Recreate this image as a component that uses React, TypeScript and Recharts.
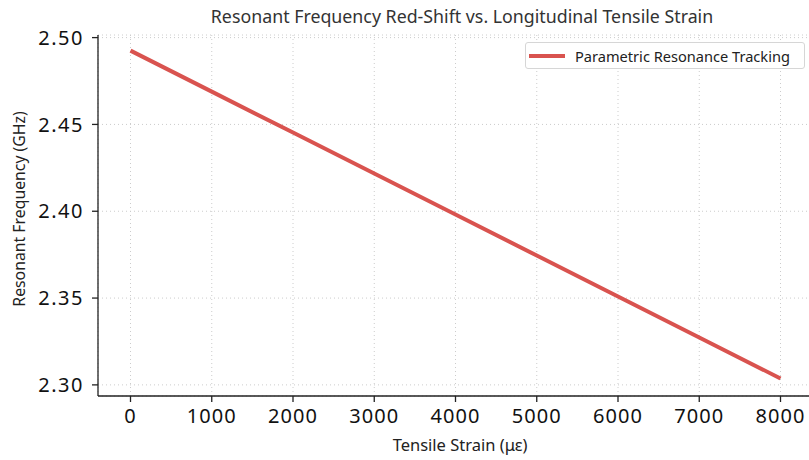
import {
  LineChart,
  Line,
  XAxis,
  YAxis,
  CartesianGrid,
} from "recharts";

const strain = [0, 1000, 2000, 3000, 4000, 5000, 6000, 7000, 8000];
const frequency = [2.4925, 2.4689, 2.4453, 2.4217, 2.3981, 2.3745, 2.3509, 2.3273, 2.3037];
const xTicks = [0, 1000, 2000, 3000, 4000, 5000, 6000, 7000, 8000];
const yTicks = [2.3, 2.35, 2.4, 2.45, 2.5];
const seriesName = "Parametric Resonance Tracking";

const data = strain.map((s, i) => ({ strain: s, freq: frequency[i] }));

const FONT = "'Noto Sans', sans-serif";
const RED = "#d9534f";

const LegendBox = () => (
  <div
    style={{
      position: "absolute",
      left: 525,
      top: 42,
      width: 280,
      height: 27,
      border: "1px solid #d6d6d6",
      borderRadius: 3,
      background: "#fff",
      display: "flex",
      alignItems: "center",
      boxSizing: "border-box",
      fontFamily: FONT,
      fontSize: 14.6,
      color: "#222",
      whiteSpace: "nowrap",
    }}
  >
    <span
      style={{
        display: "inline-block",
        width: 36,
        height: 4,
        background: RED,
        marginLeft: 3,
        marginRight: 10,
      }}
    />
    {seriesName}
  </div>
);

const YLabel = () => (
  <text
    x={19}
    y={209}
    transform="rotate(-90 19 209)"
    textAnchor="middle"
    dominantBaseline="central"
    fill="#222"
    fontSize={15.8}
    fontFamily={FONT}
  >
    Resonant Frequency (GHz)
  </text>
);

const XLabel = () => (
  <text
    x={460}
    y={444}
    textAnchor="middle"
    dominantBaseline="central"
    fill="#222"
    fontSize={16.5}
    fontFamily={FONT}
  >
    Tensile Strain (με)
  </text>
);

export default function App() {
  return (
    <div
      style={{
        position: "absolute",
        left: 0,
        top: 0,
        width: 809,
        height: 460,
        overflow: "hidden",
        background: "#fff",
      }}
    >
      <div
        style={{
          position: "absolute",
          left: 62,
          width: 800,
          top: 4,
          textAlign: "center",
          fontFamily: FONT,
          fontSize: 17.8,
          color: "#333",
          whiteSpace: "nowrap",
        }}
      >
        Resonant Frequency Red-Shift vs. Longitudinal Tensile Strain
      </div>
      <LineChart
        width={815}
        height={460}
        data={data}
        margin={{ top: 35, right: 2, bottom: 0, left: 0 }}
        style={{ fontFamily: FONT }}
      >
        <CartesianGrid stroke="#cccccc" strokeDasharray="1 3" />
        <XAxis
          dataKey="strain"
          type="number"
          domain={[-400, 8400]}
          ticks={xTicks}
          allowDataOverflow
          height={64}
          tickSize={6}
          tickMargin={7}
          stroke="#222"
          strokeWidth={1.3}
          tick={{ fill: "#111", fontSize: 20, letterSpacing: 1 }}
          label={<XLabel />}
        />
        <XAxis
          xAxisId="top"
          orientation="top"
          dataKey="strain"
          type="number"
          domain={[-400, 8400]}
          height={0}
          tick={false}
          tickLine={false}
          stroke="#222"
          strokeWidth={1.3}
        />
        <YAxis
          type="number"
          domain={[2.2936, 2.5015]}
          ticks={yTicks}
          allowDataOverflow
          width={98}
          tickSize={6}
          tickMargin={8}
          stroke="#222"
          strokeWidth={1.3}
          tick={{ fill: "#111", fontSize: 20, letterSpacing: 1.5 }}
          tickFormatter={(v: number) => v.toFixed(2)}
          label={<YLabel />}
        />
        <Line
          type="linear"
          dataKey="freq"
          name={seriesName}
          stroke={RED}
          strokeWidth={4}
          dot={false}
          isAnimationActive={false}
        />
      </LineChart>
      <LegendBox />
    </div>
  );
}
